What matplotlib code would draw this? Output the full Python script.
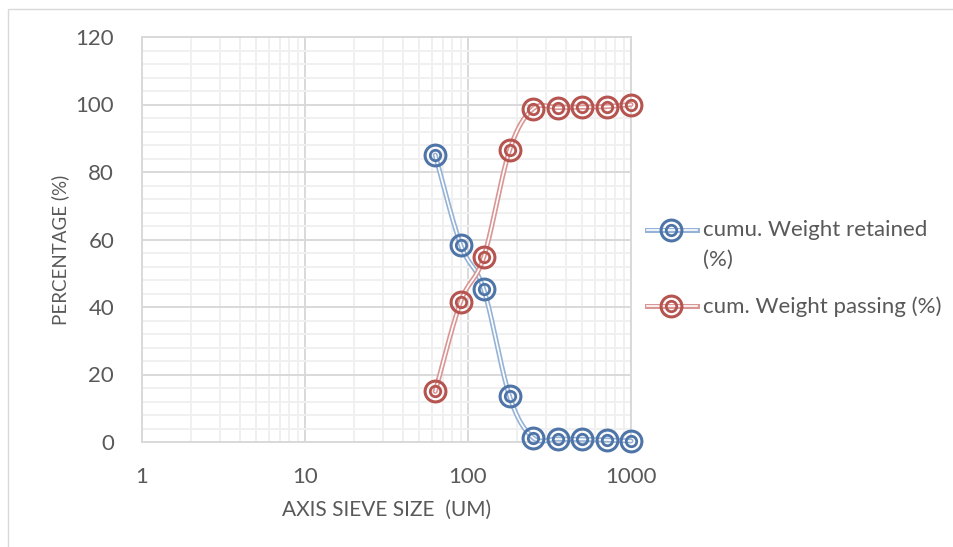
import numpy as np
import matplotlib
matplotlib.use("Agg")
import matplotlib.pyplot as plt
from matplotlib.ticker import FixedLocator, FixedFormatter, NullFormatter, MultipleLocator
from matplotlib.patches import Rectangle
from matplotlib.lines import Line2D

plt.rcParams['font.family'] = ['Lato', 'DejaVu Sans']

# sieve data (um) and cumulative percentages
sieve_size = [63, 90, 125, 180, 250, 355, 500, 710, 1000]
cum_retained = [85.0, 58.5, 45.2, 13.5, 1.3, 0.9, 0.8, 0.6, 0.3]
cum_passing = [15.0, 41.5, 54.8, 86.5, 98.7, 99.1, 99.2, 99.4, 100.0]

label_retained = "cumu. Weight retained\n(%)"
label_passing = "cum. Weight passing (%)"

blue_line, blue_mark = "#95B3D7", "#4F75A8"
red_line, red_mark = "#D99694", "#B65450"
text_col = "#595959"


def smooth(x, y, n=30):
    # excel-like smoothed line (catmull-rom in log-x space)
    u = np.log10(x) * 163.0
    v = np.asarray(y) * 3.375
    pts = np.column_stack([u, v])
    out = []
    for i in range(len(pts) - 1):
        p0 = pts[max(i - 1, 0)]
        p1 = pts[i]
        p2 = pts[i + 1]
        p3 = pts[min(i + 2, len(pts) - 1)]
        b1 = p1 + (p2 - p0) / 6.0
        b2 = p2 - (p3 - p1) / 6.0
        t = np.linspace(0, 1, n)[:, None]
        seg = ((1 - t) ** 3) * p1 + 3 * ((1 - t) ** 2) * t * b1 + 3 * (1 - t) * t ** 2 * b2 + t ** 3 * p2
        out.append(seg if i == 0 else seg[1:])
    out = np.vstack(out)
    return 10 ** (out[:, 0] / 163.0), out[:, 1] / 3.375


fig = plt.figure(figsize=(9.54, 5.47), dpi=100)
fig.patches.append(Rectangle((8 / 954, -0.1), 1.2, 1 - 9 / 547 + 0.1, transform=fig.transFigure,
                             facecolor="none", edgecolor="#D9D9D9", lw=1.0))
ax = fig.add_axes([142 / 954, 105 / 547, 489 / 954, 405 / 547])

ax.set_xscale("log")
ax.set_xlim(1, 1000)
ax.set_ylim(0, 120)
ax.xaxis.set_major_locator(FixedLocator([1, 10, 100, 1000]))
ax.xaxis.set_major_formatter(FixedFormatter(["1", "10", "100", "1000"]))
minors = [m * 10 ** e for e in range(3) for m in range(2, 10)]
ax.xaxis.set_minor_locator(FixedLocator(minors))
ax.xaxis.set_minor_formatter(NullFormatter())
ax.yaxis.set_major_locator(MultipleLocator(20))
ax.yaxis.set_minor_locator(MultipleLocator(4))

ax.grid(True, which="minor", color="#F0F0F0", lw=1.4, zorder=0)
ax.grid(True, which="major", color="#D9D9D9", lw=1.4, zorder=0)
for s in ax.spines.values():
    s.set_color("#D9D9D9")
    s.set_linewidth(1.4)
ax.tick_params(which="both", length=0)
ax.tick_params(axis="x", pad=18, labelsize=16, labelcolor=text_col)
ax.tick_params(axis="y", pad=20, labelsize=16, labelcolor=text_col)

for yv, lc, mc in [(cum_retained, blue_line, blue_mark), (cum_passing, red_line, red_mark)]:
    sx, sy = smooth(sieve_size, yv)
    ax.plot(sx, sy, color=lc, lw=3.6, solid_capstyle="round", zorder=3, clip_on=False)
    ax.plot(sx, sy, color="white", lw=1.2, zorder=3, clip_on=False)
    ax.plot(sieve_size, yv, ls="none", marker="o", ms=15, mfc="none", mec=mc, mew=2.2, zorder=4, clip_on=False)
    ax.plot(sieve_size, yv, ls="none", marker="o", ms=7.5, mfc="none", mec=mc, mew=2.0, zorder=4, clip_on=False)

ax.set_xlabel("AXIS SIEVE SIZE  (UM)", fontsize=15, color=text_col, labelpad=9)
ax.text((60 - 142) / 489, (442 - 250) / 405, "PERCENTAGE (%)", rotation=90, fontsize=13.5,
        color=text_col, ha="center", va="center", transform=ax.transAxes)

# legend drawn by hand so the handle sits on the first text line
for ypix, lc, mc, lab in [(230, blue_line, blue_mark, label_retained),
                          (306, red_line, red_mark, label_passing)]:
    yf = 1 - ypix / 547
    xs = [647 / 954, 697 / 954]
    fig.add_artist(Line2D(xs, [yf, yf], color=lc, lw=3.6, transform=fig.transFigure))
    fig.add_artist(Line2D(xs, [yf, yf], color="white", lw=1.2, transform=fig.transFigure))
    fig.add_artist(Line2D([671 / 954], [yf], marker="o", ms=15, mfc="none", mec=mc, mew=2.2,
                          transform=fig.transFigure))
    fig.add_artist(Line2D([671 / 954], [yf], marker="o", ms=7.5, mfc="none", mec=mc, mew=2.0,
                          transform=fig.transFigure))
    fig.text(703 / 954, yf + 10 / 547, lab, fontsize=16, color=text_col, va="top", ha="left",
             linespacing=1.6)

fig.savefig("out.png", dpi=100)
